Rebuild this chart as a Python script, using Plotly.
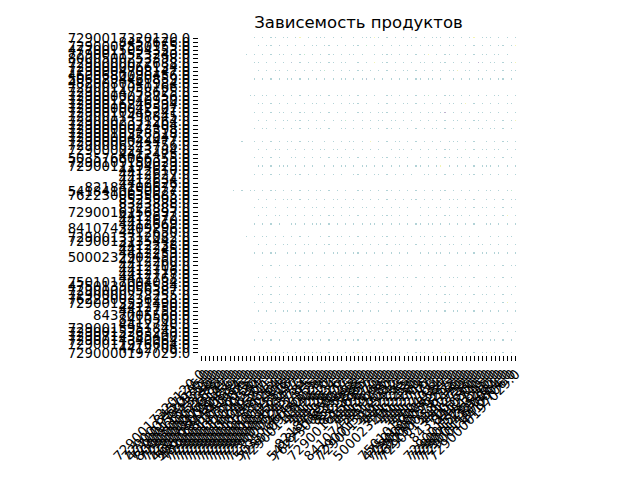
import plotly.graph_objects as go

# Product codes (same order on both axes)
products = [
    "7290017320120.0", "8457676.0", "7290007520155.0", "4770015094353.0",
    "7290011523240.0", "8000500253398.0", "7290000072688.0", "7290000066134.0",
    "7290004708147.0", "4600680090456.0", "5060294460859.0", "4820080541984.0",
    "7290011050166.0", "7290014758625.0", "7290000072756.0", "7290012040930.0",
    "7290016246394.0", "7290000042507.0", "7290010945241.0", "7290011498845.0",
    "7290002331264.0", "7290000072404.0", "7290000043398.0", "7290010328518.0",
    "7290000452047.0", "7290000044477.0", "7290006243756.0", "7290000243784.0",
    "4412475.0", "5035766066355.0", "7290109150029.0", "7290011194029.0",
    "4412610.0", "4412627.0", "4412634.0", "4412626.0",
    "82184109672.0", "5418410650027.0", "7622300635685.0", "8525998.0",
    "8323888.0", "8323885.0", "7290016156397.0", "4412672.0",
    "4412670.0", "4412669.0", "8410743409296.0", "4412650.0",
    "7290013312082.0", "7290013135442.0", "4412238.0", "4412245.0",
    "4412259.0", "5000232902450.0", "4412260.0", "4412709.0",
    "4412716.0", "4412777.0", "4417768.0", "7501017004034.0",
    "4750139006584.0", "7290000056387.0", "7290000273255.0", "7622300336738.0",
    "7290013531490.0", "4412750.0", "4412758.0", "8437005560.0",
    "8410500.0", "4412740.0", "7290015951845.0", "7290015263240.0",
    "7290714385400.0", "7290014340064.0", "7290011976604.0", "4412706.0",
    "7290000197029.0",
]

# Rows that contain non-empty dependency cells, with per-column codes
dep_rows = [0, 2, 4, 6, 8, 10, 14, 16, 18, 20, 22, 25, 27, 29, 31, 33, 37,
            39, 41, 43, 45, 48, 50, 52, 55, 58, 60, 62, 64, 66, 69, 71, 73, 76]
dep_patterns = [
    "..... ........ g.g.gg.g g.gy.g.g gg.g.g.. g.gggyg. g.g.g.gg .g.ggg.g g.g.gy.g gg.g.g.g",
    "..... ........ .g.gg.b. g.g.g.gg .gg.g.g. gg.l.g.g .g.g.gg. g.gg.g.g g..g.g.g .g.gg.gy",
    "..... ......g. g.g.g.gg .g.gl.g. g.gg.g.g g.g..g.g gg.g.g.g .gy.g.gg .g.g.g.g g.gg.g..",
    "..... ........ gg.g.g.g .b.g.g.g g.gg.gg. .g.g.y.g g.g.g.g. gg.g.gg. g.g.g.pg .gg.g.gy",
    "..... ........ .g.g.gg. g.g.g.g. gl.g.g.g .gg.g.g. g.g.gg.g .g.g.g.g gy.gg.g. g.g.g.gg",
    "..... ........ g.g.g.g. gg.g.g.g .g.g.gg. g.gb.g.g .g.g.g.g g.gg.g.. g.g.g.gg .g.gg.g.",
    "..... .......g g.gg.g.g .g.g.g.g g.g.gg.g .g.g.g.. gg.g.g.g .gl.g.gg g.g.g.g. g.gg.g.g",
    "..... ........ .gg.g.g. g.g.g.gg .g.g.g.g gg.g..g. g.g.gg.g .g.g.g.g g.gy.g.g .g.g.gg.",
    "..... ........ g.g.g.gg .g.gg.g. g.g.g.g. .gg.g.gg g.g.g.g. g.gg.gp. g.g.g.gg .g.g.g.g",
    "..... ........ .g.g.g.g g.gg.g.g .g.g.gl. g.g.g.gg .gg.g.g. g.g.g.g. gg.g.gg. g.g.g.gy",
    "..... ........ g.gg.g.g .g.g.g.g g.g..gg. g.g.g.g. gg.g.g.g .g.gg.g. g.g.g.gg .gg.g.g.",
    "..... .....g.. g.g.g.g. gg.g.gg. .g.g.g.g g.g.y.g. g.gg.g.g .g.g.g.g gg.g.g.. g.g.gg.g",
    "..... ........ .g.g.gg. g.g.g.g. gg.gg.g. g.g.g.g. .g.gg.g. g.g.g.gg .g.l.g.g g.gg.g.g",
    "..... ........ g.g.g.g. .gg.g.g. g.g.gg.g .g.g.g.g g.gg.g.. g.g.g.gg .gg.g.g. g.g.g.g.",
    "..... ........ .gg.g.gg g.g.g.g. .g.g.gg. g.gg.g.g .g.g.g.g g.g.gy.g .g.g.g.g gg.g.g.g",
    "..... ........ g.g.g.g. g.gg.g.g .g.g.g.. gg.g.gg. g.g.g.g. .gg.g.g. g.g.gg.g .g.g.g.g",
    "..... ...g.g.g g.g.gg.g .g.g.g.g g.g.g.g. .gg.g.g. gg.g.g.g .g.g.gg. g.g.g.g. gg.g.gl.",
    "..... ........ .g.g.g.g gg.g.g.g .g.gg.g. g.g.g.g. g.g.g.gg .g.g.g.g gg.g.g.. g.g.g.gg",
    "..... ........ g.gg.g.. g.g.g.gg .g.g.g.g g.gg.g.g .g.g.g.. g.g.gg.g .g.g.g.g g.g.g.g.",
    "..... ........ .g.g.gg. g.g.g.g. g.gg.g.g .g.g.g.g gg.g.g.. g.g.g.gg .gg.g.g. g.g.gy.g",
    "..... ........ g.g.g.g. .gg.g.gg g.g.g.g. g.g.gg.g .g.g.g.g g.gg.g.g .g.g.g.. gg.g.g.g",
    "..... ......g. g.gg.g.g .g.g.g.. g.g.gg.g .g.g.g.g g.g.g.g. gg.g.gg. g.g.g.g. .g.g.gg.",
    "..... ........ .g.g.g.g g.g.gg.g .gg.g.g. g.g.g.g. g.gg.g.g .g.g.g.g g.g.g.gg .g.g.g.g",
    "..... ........ g.g.gg.. g.g.g.g. .g.gg.g. gg.g.g.g .g.g.g.. g.g.gg.g .g.g.g.g g.gg.g.g",
    "..... ........ ..g.g.g. g.gg.g.g .g.g.g.g g.g.g.g. gg.g.gg. g.g.g.g. .gg.g.g. g.g.g.gg",
    "..... ........ .g.g.gg. .g.g.g.g g.gg.g.g .g.g.g.. g.g.gg.g .g.g.g.g gg.g.g.. g.g.g.g.",
    "..... ........ g.g.g.g. g.g.g.gg .g.g.g.g gg.gg.g. g.g.g.g. .g.g.gg. g.g.g.g. gg.g.g.g",
    "..... ........ .gg.g.g. g.g.g.g. g.g.gg.g .g.g.g.g g.gg.g.. g.g.g.gg .g.g.g.g g.g.g.g.",
    "..... ........ g.g.g.gg .g.g.g.. gg.g.g.g .g.gg.g. g.g.g.g. g.g.g.gg .gg.g.g. g.g.gy.g",
    "..... ........ .g.g.g.g g.gg.g.g .g.g.g.g g.g.g.g. .g.g.gg. g.g.g.g. gg.g.g.g .g.g.g.g",
    "..... ........ g.g.gg.g .g.g.g.. g.g.g.gg .g.g.g.g gg.g.g.g .g.g.g.. g.gg.g.g g.g.g.g.",
    "..... ........ .g.g.g.g g.gg.g.g .g.g.g.g g.g.g.g. g.g.gg.g .g.g.g.g g.g.g.gg .g.g.g.g",
    "..... ........ g.g.g.g. .g.g.gg. g.g.g.g. gg.g.g.g .g.g.g.g g.gg.g.. g.g.g.gg .gg.g.g.",
    "..... ........ .g.gyg.g g.g.gygl g.g.g.g. gyg.g.gl .g.g.g.g gl.g.gyg .g.g.g.g gyg.g.g.",
]
code_values = {"g": 0.45, "b": 0.3, "l": 0.7, "y": 0.95, "p": 0.1}

n = len(products)
z = [[None] * n for _ in range(n)]
for r, pat in zip(dep_rows, dep_patterns):
    cells = pat.replace(" ", "")
    for c, ch in enumerate(cells[:n]):
        if ch in code_values:
            z[r][c] = code_values[ch]

idx = list(range(n))
fig = go.Figure(go.Heatmap(
    z=z, x=idx, y=idx, colorscale="Viridis", zmin=0, zmax=1,
    showscale=False, xgap=3, ygap=3, opacity=0.35,
))

font = dict(family="DejaVu Sans", size=13.3, color="black")
axis_common = dict(
    tickmode="array", tickvals=idx, ticktext=products,
    ticks="outside", ticklen=5, tickwidth=1, tickcolor="black",
    showgrid=False, zeroline=False, showline=False, tickfont=font,
)
fig.update_layout(
    width=640, height=480,
    margin=dict(l=199, r=122, t=36, b=125),
    paper_bgcolor="white", plot_bgcolor="white",
    title=dict(text="Зависемость продуктов", x=0.5, xref="paper",
               y=1 - 22 / 480, yanchor="middle",
               font=dict(family="DejaVu Sans", size=16.5, color="black")),
    xaxis=dict(range=[-0.5, n - 0.5], tickangle=-45, **axis_common),
    yaxis=dict(range=[n - 0.5, -0.5], **axis_common),
    font=font,
)
fig.write_html("out.html")
